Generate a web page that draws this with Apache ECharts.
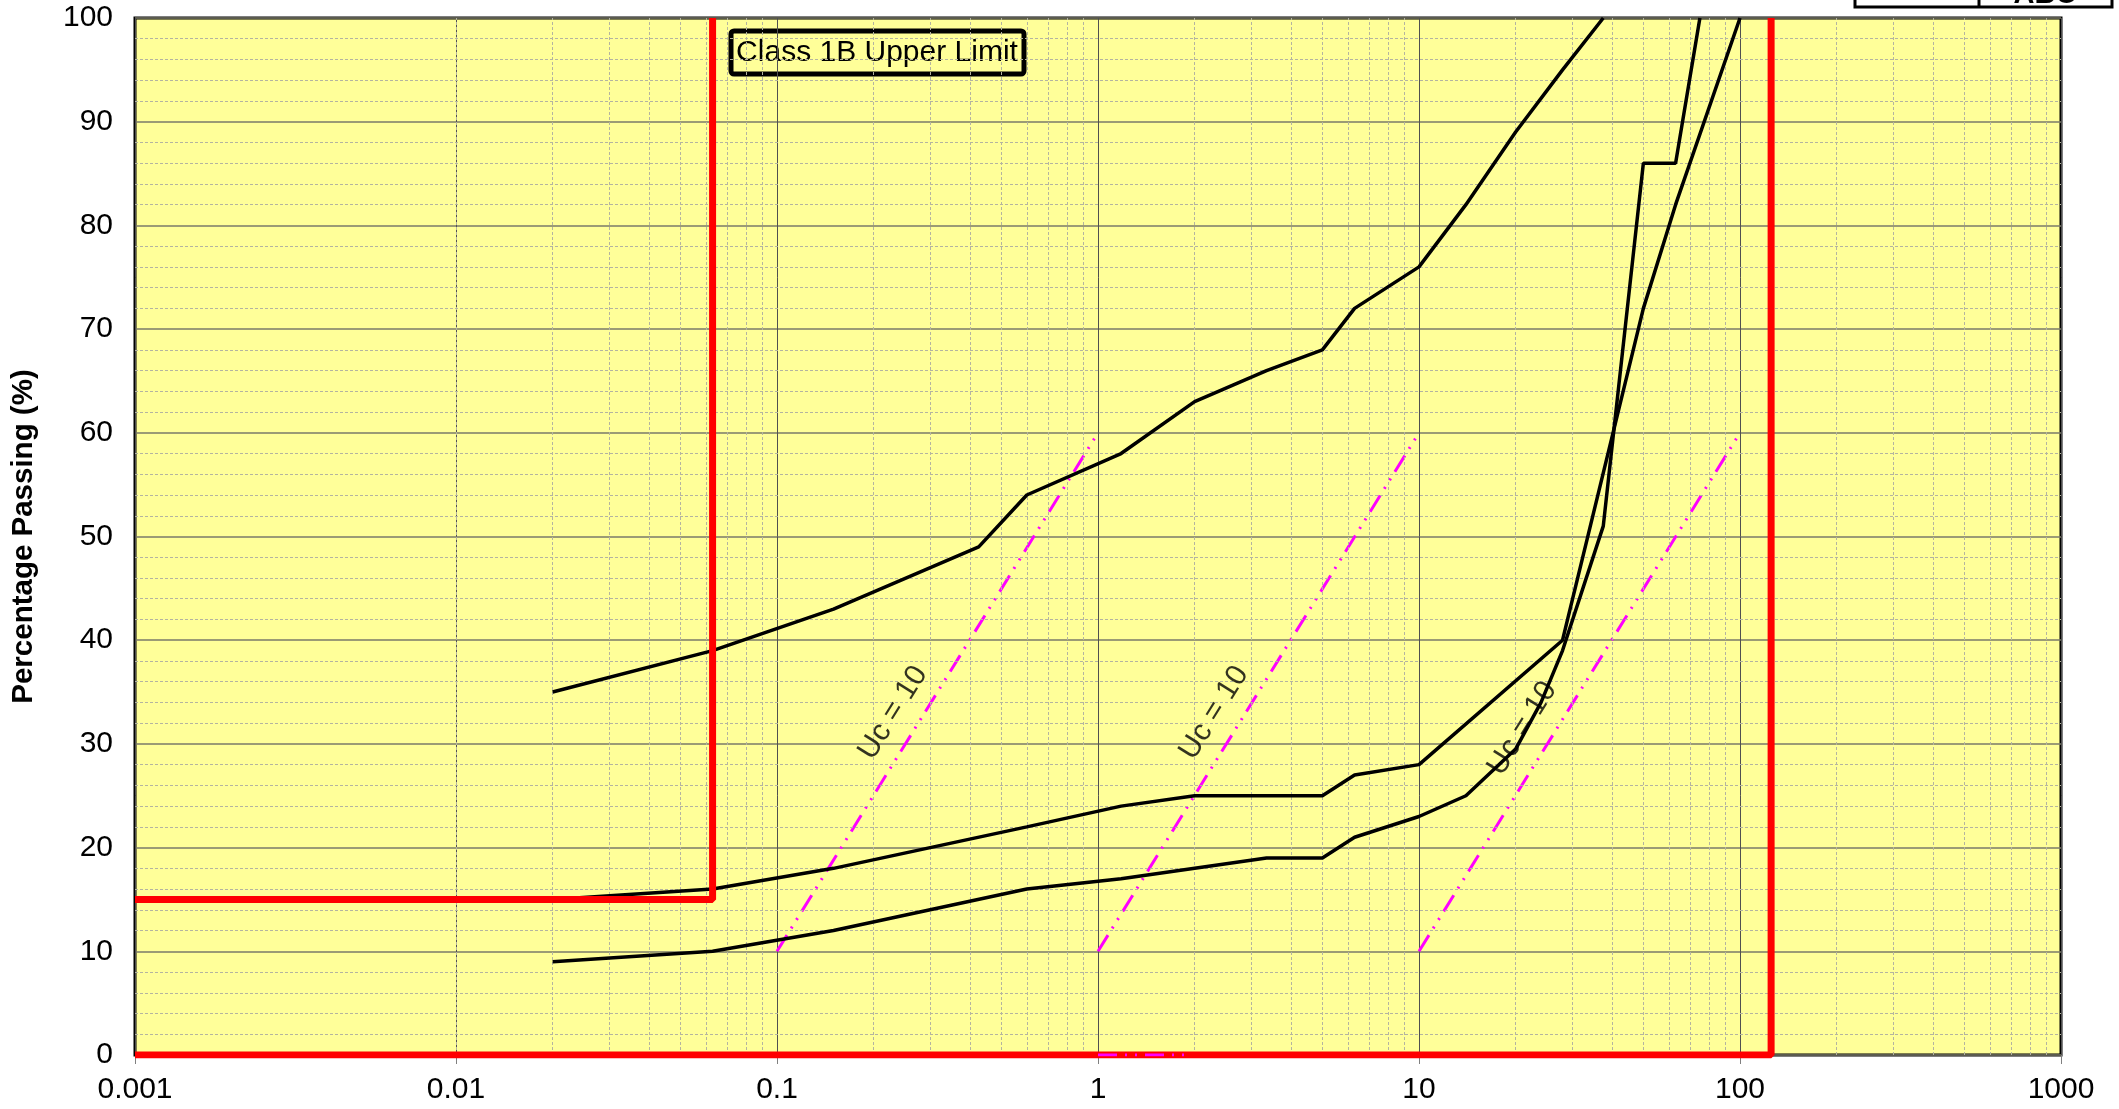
<!DOCTYPE html>
<html lang="en">
<head>
    <meta charset="UTF-8">
    <title>Grading curves</title>
    <style>
        html, body { margin: 0; padding: 0; background: #fff; }
        #chart { width: 2119px; height: 1109px; }
    </style>
    <script src="https://cdn.jsdelivr.net/npm/echarts@6/dist/echarts.min.js"></script>
</head>
<body>
    <div id="chart"></div>
    <script>
        // tick labels
        var xTickLabels = ['0.001', '0.01', '0.1', '1', '10', '100', '1000'];

        // grading curves (particle size mm / % passing)
        var upperSize = [0.02, 0.063, 0.15, 0.425, 0.6, 1.18, 2, 3.35, 5, 6.3, 10, 14, 20, 28, 37.5];
        var upperPass = [35, 39, 43, 49, 54, 58, 63, 66, 68, 72, 76, 82, 89, 95, 100];

        var middleSize = [0.02, 0.063, 0.15, 0.6, 1.18, 2, 5, 6.3, 10, 28, 50, 63, 100];
        var middlePass = [15, 16, 18, 22, 24, 25, 25, 27, 28, 40, 72, 82, 100];

        var lowerSize = [0.02, 0.063, 0.15, 0.6, 1.18, 3.35, 5, 6.3, 10, 14, 20, 24, 28, 37.5, 50, 63, 75];
        var lowerPass = [9, 10, 12, 16, 17, 19, 19, 21, 23, 25, 29.5, 34, 39, 51, 86, 86, 100];

        // Class 1B upper limit
        var limitFineSize = [0.001, 0.063, 0.063];
        var limitFinePass = [15, 15, 100];
        var limitCoarseSize = [0.001, 125, 125];
        var limitCoarsePass = [0, 0, 100];

        // Uc = 10 guide lines
        var ucStartSize = [0.1, 1, 10];
        var ucEndSize = [1, 10, 100];
        var ucPass = [10, 60];
        var ucBaseSize = [1, 1.9];
        var ucBasePass = [0, 0];
        var ucLabelSize = [0.23, 2.3, 21];
        var ucLabelPass = [33, 33, 31.5];

        function pairs(xs, ys) {
            return xs.map(function (x, i) { return [x, ys[i]]; });
        }

        var font = 'Liberation Sans, Arial, sans-serif';

        // minor grid positions
        var minorX = [];
        for (var d = -3; d < 3; d++) {
            for (var m = 2; m <= 9; m++) minorX.push({ xAxis: m * Math.pow(10, d) });
        }
        var minorY = [];
        for (var v = 2; v < 100; v += 2) {
            if (v % 10 !== 0) minorY.push({ yAxis: v });
        }

        var ucDash = [19, 8, 2, 8, 2, 8];
        var series = [
            {
                type: 'line', data: [], z: 1, silent: true,
                markLine: {
                    silent: true, symbol: 'none', label: { show: false },
                    lineStyle: { color: '#b4b4a0', width: 1, type: [3, 2] },
                    animation: false,
                    data: minorX.concat(minorY)
                }
            }
        ];

        [[upperSize, upperPass], [middleSize, middlePass], [lowerSize, lowerPass]].forEach(function (c) {
            series.push({
                type: 'line', data: pairs(c[0], c[1]), symbol: 'none', z: 5,
                lineStyle: { color: '#000', width: 3.5 }
            });
        });

        for (var i = 0; i < ucStartSize.length; i++) {
            series.push({
                type: 'line', data: pairs([ucStartSize[i], ucEndSize[i]], ucPass), symbol: 'none', z: 4,
                lineStyle: { color: '#ff00ff', width: 3, type: ucDash }
            });
        }

        series.push({
            type: 'line', data: pairs(limitFineSize, limitFinePass), symbol: 'none', z: 6,
            lineStyle: { color: '#ff0000', width: 7 }
        });
        series.push({
            type: 'line', data: pairs(limitCoarseSize, limitCoarsePass), symbol: 'none', z: 6,
            lineStyle: { color: '#ff0000', width: 7 }
        });
        series.push({
            type: 'line', data: pairs(ucBaseSize, ucBasePass), symbol: 'none', z: 7,
            lineStyle: { color: '#ff00ff', width: 3, type: ucDash }
        });

        series.push({
            type: 'scatter', data: pairs(ucLabelSize, ucLabelPass), symbolSize: 0, z: 8,
            label: {
                show: true, position: 'inside', formatter: 'Uc = 10', rotate: 58,
                color: '#000', fontSize: 30, fontFamily: font
            }
        });

        var chart = echarts.init(document.getElementById('chart'));
        chart.setOption({
            animation: false,
            grid: {
                left: 135, right: 58, top: 18, bottom: 54,
                show: true, backgroundColor: '#ffff99', borderColor: '#000', borderWidth: 3
            },
            xAxis: {
                type: 'log', logBase: 10, min: 0.001, max: 1000,
                axisLine: { show: false },
                axisTick: { show: true, length: 9, lineStyle: { color: '#808080', width: 1 } },
                axisLabel: {
                    fontSize: 30, color: '#000', fontFamily: font, margin: 20,
                    showMinLabel: true, showMaxLabel: true,
                    formatter: function (val) {
                        return xTickLabels[Math.round(Math.log10(val)) + 3];
                    }
                },
                splitLine: { show: true, lineStyle: { color: '#505050', width: 1 } }
            },
            yAxis: {
                type: 'value', min: 0, max: 100, interval: 10,
                name: 'Percentage Passing (%)', nameLocation: 'middle', nameGap: 96,
                nameTextStyle: { fontSize: 29.5, fontWeight: 'bold', color: '#000', fontFamily: font },
                axisLine: { show: false },
                axisTick: { show: false },
                axisLabel: { fontSize: 30, color: '#000', fontFamily: font, margin: 22 },
                splitLine: { show: true, lineStyle: { color: '#7a7a6a', width: 1.5 } }
            },
            graphic: [
                {
                    type: 'group', z: 100,
                    children: [
                        {
                            type: 'rect', shape: { x: 731, y: 31, width: 293, height: 43, r: 3 },
                            style: { fill: '#ffff99', stroke: '#000', lineWidth: 5 }
                        },
                        {
                            type: 'text',
                            style: {
                                text: 'Class 1B Upper Limit', x: 877, y: 53, align: 'center', verticalAlign: 'middle',
                                font: '30px ' + font, fill: '#000'
                            }
                        }
                    ]
                },
                {
                    type: 'group', z: 100,
                    children: [
                        {
                            type: 'rect', shape: { x: 1855, y: -40, width: 257, height: 47 },
                            style: { fill: '#fff', stroke: '#000', lineWidth: 3 }
                        },
                        {
                            type: 'line', shape: { x1: 1979, y1: -40, x2: 1979, y2: 7 },
                            style: { stroke: '#000', lineWidth: 3 }
                        },
                        {
                            type: 'text',
                            style: {
                                text: 'ABC', x: 2045, y: 9, align: 'center', verticalAlign: 'bottom',
                                font: 'bold 29px ' + font, fill: '#000'
                            }
                        }
                    ]
                }
            ],
            series: series
        });
    </script>
</body>
</html>
